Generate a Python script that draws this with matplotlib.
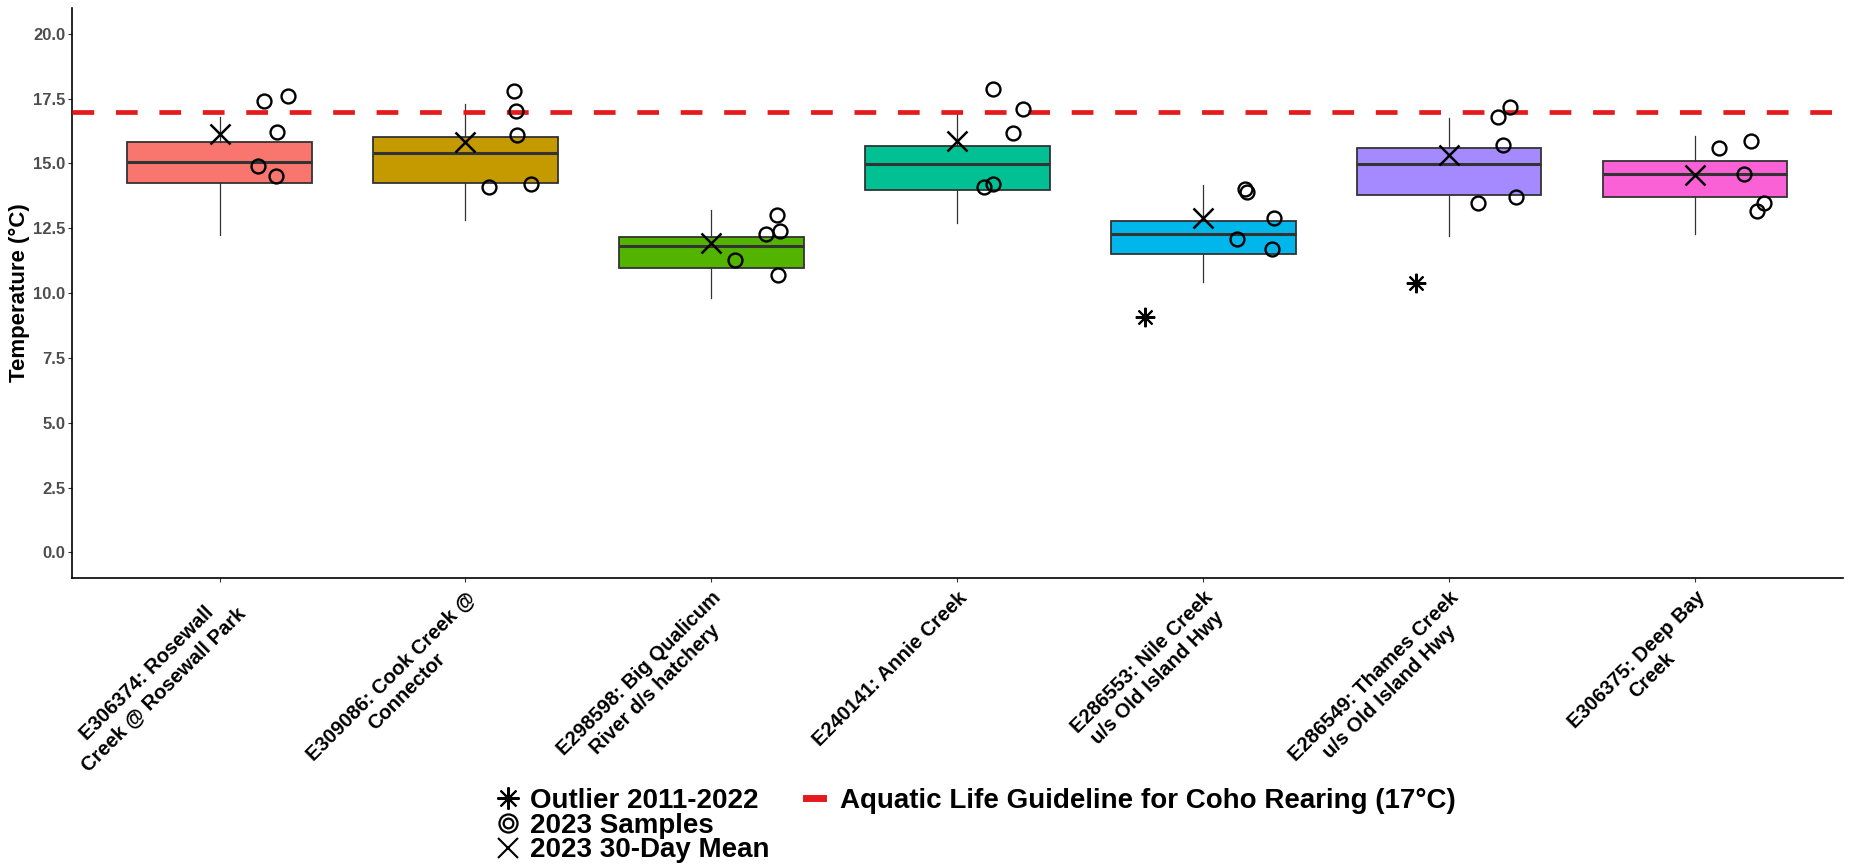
import matplotlib
matplotlib.use('Agg')
import matplotlib.pyplot as plt
from matplotlib.lines import Line2D
from matplotlib.legend_handler import HandlerTuple

plt.rcParams['font.family'] = ['Liberation Sans', 'DejaVu Sans']

# site labels (x axis)
sites = ['E306374: Rosewall\nCreek @ Rosewall Park',
         'E309086: Cook Creek @\nConnector',
         'E298598: Big Qualicum\nRiver d/s hatchery',
         'E240141: Annie Creek',
         'E286553: Nile Creek\nu/s Old Island Hwy',
         'E286549: Thames Creek\nu/s Old Island Hwy',
         'E306375: Deep Bay\nCreek']
box_colors = ['#F8766D', '#C49A00', '#53B400', '#00C094', '#00B6EB', '#A58AFF', '#FB61D7']

# 2011-2022 box statistics
box_q1 = [14.23, 14.26, 10.95, 13.99, 11.50, 13.77, 13.69]
box_med = [15.05, 15.40, 11.81, 14.99, 12.29, 14.99, 14.59]
box_q3 = [15.81, 16.00, 12.15, 15.68, 12.79, 15.59, 15.10]
whisk_lo = [12.22, 12.81, 9.81, 12.71, 10.41, 12.21, 12.29]
whisk_hi = [16.77, 17.29, 13.19, 16.91, 14.18, 16.76, 16.06]

# outliers 2011-2022 (site index, value, jitter)
outlier_site = [4, 5]
outlier_temp = [9.09, 10.40]
outlier_jitter = [-0.236, -0.133]

# 2023 30-day mean
mean_30day = [16.13, 15.81, 11.94, 15.88, 12.91, 15.33, 14.56]

# 2023 samples per site, with horizontal jitter
samples_2023 = [[17.40, 17.60, 16.21, 14.90, 14.50],
                [17.79, 17.01, 16.10, 14.10, 14.21],
                [13.00, 12.29, 12.40, 11.29, 10.69],
                [17.88, 17.08, 16.19, 14.08, 14.19],
                [14.00, 13.88, 12.91, 12.09, 11.69],
                [17.19, 16.78, 15.69, 13.49, 13.71],
                [15.59, 15.88, 14.59, 13.49, 13.18]]
sample_jitter = [[0.182, 0.279, 0.233, 0.156, 0.228],
                 [0.196, 0.205, 0.210, 0.094, 0.267],
                 [0.266, 0.220, 0.280, 0.097, 0.270],
                 [0.146, 0.266, 0.228, 0.110, 0.147],
                 [0.169, 0.178, 0.286, 0.137, 0.280],
                 [0.248, 0.200, 0.218, 0.119, 0.270],
                 [0.099, 0.227, 0.199, 0.280, 0.250]]

guideline = 17.0
yticks = [0.0, 2.5, 5.0, 7.5, 10.0, 12.5, 15.0, 17.5, 20.0]

fig = plt.figure(figsize=(18.6, 8.67), dpi=100)
ax = fig.add_axes([0.0387, 0.333, 0.952, 0.658])

pos = list(range(1, len(sites) + 1))
stats = []
for i in range(len(sites)):
    stats.append(dict(q1=box_q1[i], med=box_med[i], q3=box_q3[i],
                      whislo=whisk_lo[i], whishi=whisk_hi[i], fliers=[]))
bp = ax.bxp(stats, positions=pos, widths=0.75, patch_artist=True, showcaps=False,
            boxprops=dict(edgecolor='#333333', linewidth=1.3),
            medianprops=dict(color='#333333', linewidth=2.2),
            whiskerprops=dict(color='#333333', linewidth=0.9), zorder=2)
for patch, c in zip(bp['boxes'], box_colors):
    patch.set_facecolor(c)

ax.axhline(guideline, color='#E41A1C', lw=3.4, dashes=(4.6, 4.6), zorder=3)

for i in range(len(sites)):
    xs = [pos[i] + j for j in sample_jitter[i]]
    ax.plot(xs, samples_2023[i], 'o', ms=10, mfc='none', mec='black', mew=1.7, zorder=4)
ax.plot(pos, mean_30day, 'x', ms=15, mec='black', mew=1.8, zorder=4)
ax.plot([pos[s] + j for s, j in zip(outlier_site, outlier_jitter)], outlier_temp,
        marker=(8, 2, 0), ls='none', ms=14, mec='black', mew=1.5, zorder=4)

ax.set_xlim(0.4, 7.6)
ax.set_ylim(-1, 21)
ax.set_yticks(yticks)
ax.set_yticklabels(['%.1f' % t for t in yticks], fontsize=12, fontweight='bold', color='#4D4D4D')
ax.set_xticks(pos)
ax.set_xticklabels(sites, rotation=45, ha='right', va='top', rotation_mode='anchor',
                   multialignment='center', fontsize=14.5, fontweight='bold')
ax.tick_params(axis='both', color='#333333', length=3, width=0.8)
ax.tick_params(axis='y', pad=2)
ax.tick_params(axis='x', pad=4)
for s in ['top', 'right']:
    ax.spines[s].set_visible(False)
for s in ['left', 'bottom']:
    ax.spines[s].set_linewidth(1.2)
ax.set_ylabel('Temperature (°C)', fontsize=16, fontweight='bold', labelpad=2)

# legends
leg_font = dict(family=['Liberation Sans', 'DejaVu Sans'], weight='bold', size=20)
h_out = Line2D([], [], marker=(8, 2, 0), ls='none', ms=16, mec='black', mew=1.5)
h_samp = (Line2D([], [], marker='o', ls='none', ms=13, mfc='none', mec='black', mew=1.6),
          Line2D([], [], marker='o', ls='none', ms=7, mfc='none', mec='black', mew=1.6))
h_mean = Line2D([], [], marker='x', ls='none', ms=15, mec='black', mew=1.5)
leg1 = fig.legend([h_out, h_samp, h_mean], ['Outlier 2011-2022', '2023 Samples', '2023 30-Day Mean'],
                  handler_map={tuple: HandlerTuple(ndivide=1, pad=0)},
                  loc='upper left', bbox_to_anchor=(0.258, 0.107), frameon=False, prop=leg_font,
                  handlelength=1.0, handletextpad=0.3, labelspacing=-0.05, borderpad=0)
h_line = Line2D([], [], color='#E41A1C', lw=5)
leg2 = fig.legend([h_line], ['Aquatic Life Guideline for Coho Rearing (17°C)'],
                  loc='upper left', bbox_to_anchor=(0.426, 0.107), frameon=False, prop=leg_font,
                  handlelength=0.6, handletextpad=0.6, borderpad=0)

fig.savefig('out.png', dpi=100)
